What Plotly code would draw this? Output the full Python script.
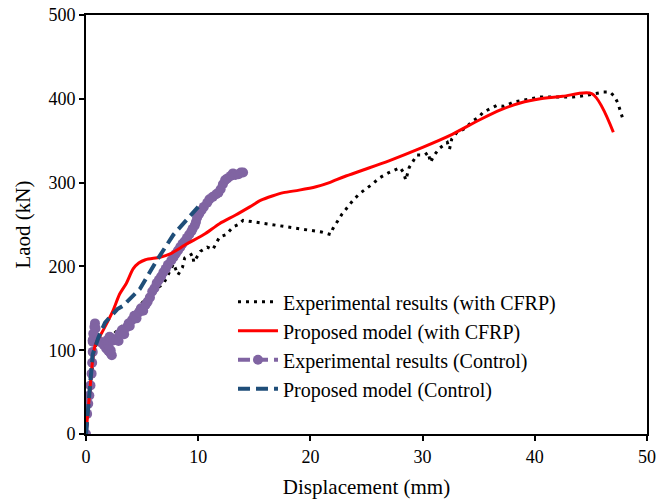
import plotly.graph_objects as go

# Experimental results (with CFRP)
exp_cfrp_x = [0, 0.3, 0.8, 1.5, 2.5, 3.5, 4.5, 5.5, 6.2, 6.9, 7.8, 8.2, 8.6, 8.8, 9.5, 9.6, 10.2, 10.8, 11.3,
              11.9, 12.5, 13.1, 13.6, 14.0, 15.5, 17.3, 19.0, 21.0, 21.8, 22.0, 22.3, 22.8, 23.8, 24.4, 25.5,
              26.2, 27.0, 28.0, 28.3, 28.5, 28.8, 29.5, 30.2, 30.5, 30.7, 31.0, 31.5, 32.2, 32.4, 32.6, 33.0,
              33.8, 34.5, 35.0, 35.4, 36.0, 36.6, 37.2, 38.1, 39.2, 40.5, 42.0, 43.4, 44.5, 45.4, 46.1, 46.7,
              47.1, 47.4, 47.6, 47.8]
exp_cfrp_y = [0, 50, 105, 112, 120, 132, 148, 165, 173, 179, 203, 190, 199, 210, 215, 205, 218, 223, 220,
              235, 238, 247, 250, 255, 252, 248, 245, 241, 238, 245, 252, 262, 279, 287, 298,
              306, 312, 318, 312, 303, 318, 333, 333, 336, 324, 332, 341, 348, 340, 352, 359,
              365, 374, 378, 384, 388, 392, 391, 396, 399, 402, 402, 402, 404, 406, 408, 408,
              403, 395, 386, 378]

# Proposed model (with CFRP)
mod_cfrp_x = [0, 0.3, 0.8, 1.5, 2.4, 3.0, 3.6, 4.2, 4.7, 5.3, 6.6, 7.5, 9.0, 10.5, 11.9, 13.3, 14.6, 15.6,
              16.6, 17.6, 19.0, 20.5, 21.7, 23.0, 24.7, 27.0, 30.0, 32.4, 35.1, 37.0, 38.7, 40.5, 42.5,
              45.1, 47.0]
mod_cfrp_y = [0, 45, 105, 123, 147, 167, 180, 197, 204, 208, 211, 215, 227, 238, 251, 261, 271, 279,
              284, 288, 291, 295, 300, 307, 315, 326, 342, 356, 375, 387, 395, 400, 403,
              406, 360]

# Experimental results (Control)
exp_ctrl_x = [0, 0.1, 0.2, 0.3, 0.4, 0.5, 0.55, 0.6, 0.6, 0.65, 0.75, 0.8, 0.85, 0.7, 0.6, 0.8, 1.0, 1.2,
              1.4, 1.6, 1.8, 2.0, 2.2, 2.3, 2.2, 2.0, 1.9, 2.1, 2.3, 2.5, 2.7, 2.9, 3.0, 3.2, 3.4, 3.6,
              3.8, 3.9, 4.1, 4.3, 4.5, 4.7, 4.9, 5.1, 5.3, 5.5, 5.7, 5.9, 6.1, 6.3, 6.5, 6.7, 6.9, 7.1,
              7.3, 7.6, 7.8, 8.0, 8.2, 8.4, 8.6, 8.8, 9.0, 9.2, 9.4, 9.5, 9.7, 9.8, 9.9, 10.1, 10.3,
              10.5, 10.8, 11.0, 11.3, 11.6, 11.8, 12.0, 12.2, 12.4, 12.6, 12.9, 13.1, 13.3, 13.6, 13.8,
              14.0]
exp_ctrl_y = [0, 24, 36, 46, 58, 72, 85, 98, 110, 120, 128, 132, 126, 118, 112, 111, 112, 111,
              109, 106, 102, 99, 96, 94, 100, 106, 112, 116, 114, 112, 113, 111, 120, 124, 119, 127,
              132, 129, 136, 141, 138, 145, 150, 147, 154, 158, 163, 170, 174, 180, 184, 188, 193, 197,
              202, 207, 211, 215, 219, 223, 227, 230, 234, 238, 242, 245, 249, 253, 258, 263, 267,
              271, 276, 280, 283, 286, 288, 292, 298, 303, 305, 308, 311, 309, 310, 312,
              312]

# Proposed model (Control)
mod_ctrl_x = [0, 0.36, 0.6, 1.1, 1.7, 2.8, 3.3, 4.8, 6.3, 7.8, 8.6, 10.0]
mod_ctrl_y = [0, 60, 95, 115, 133, 149, 153, 173, 207, 238, 250, 271]

names = ["Experimental results (with CFRP)", "Proposed model (with CFRP)",
         "Experimental results (Control)", "Proposed model (Control)"]

FONT = "Liberation Serif, Times New Roman, serif"

fig = go.Figure()
fig.add_trace(go.Scatter(x=exp_cfrp_x, y=exp_cfrp_y, mode="lines", name=names[0], legendrank=1,
                         line=dict(color="black", width=3, dash="3px,5px")))
fig.add_trace(go.Scatter(x=exp_ctrl_x, y=exp_ctrl_y, mode="lines+markers", name=names[2], legendrank=3,
                         line=dict(color="#8064A2", width=4, dash="12px,6px"),
                         marker=dict(color="#8064A2", size=10)))
fig.add_trace(go.Scatter(x=mod_cfrp_x, y=mod_cfrp_y, mode="lines", name=names[1], legendrank=2,
                         line=dict(color="#FF0000", width=3, shape="spline", smoothing=0.8)))
fig.add_trace(go.Scatter(x=mod_ctrl_x, y=mod_ctrl_y, mode="lines", name=names[3], legendrank=4,
                         line=dict(color="#1F4E79", width=4, dash="12px,6px")))

axis_common = dict(showgrid=False, zeroline=False, showline=True, linecolor="black", linewidth=1.8,
                   mirror=True, ticks="outside", ticklen=5, tickwidth=1.5, tickcolor="black",
                   automargin=False,
                   tickfont=dict(family=FONT, size=18, color="black"))

fig.update_xaxes(range=[0, 50], dtick=10, tick0=0,
                 title=dict(text="Displacement (mm)", font=dict(family=FONT, size=21, color="black"), standoff=14),
                 **axis_common)
fig.update_yaxes(range=[0, 500], dtick=100, tick0=0,
                 title=dict(text="Laod (kN)", font=dict(family=FONT, size=21, color="black"), standoff=12),
                 **axis_common)

fig.update_layout(
    width=657, height=500,
    margin=dict(l=86, r=10, t=15, b=66),
    plot_bgcolor="white", paper_bgcolor="white",
    font=dict(family=FONT, color="black"),
    showlegend=True,
    legend=dict(x=0.262, y=0.362, xanchor="left", yanchor="top", bgcolor="rgba(0,0,0,0)",
                font=dict(family=FONT, size=20, color="black"), tracegroupgap=0, itemwidth=40),
)

fig.write_html("out.html")
